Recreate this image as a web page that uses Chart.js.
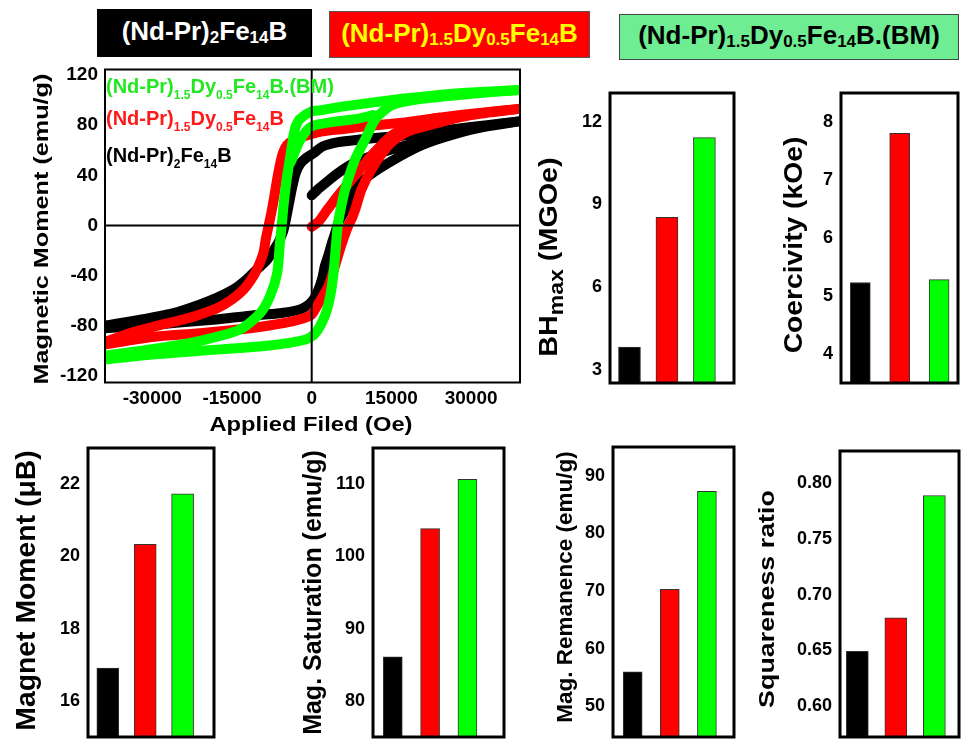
<!DOCTYPE html>
<html><head><meta charset="utf-8">
<script src="https://cdn.jsdelivr.net/npm/chart.js@4.4.1/dist/chart.umd.min.js"></script>
<style>
html,body{margin:0;padding:0;background:#fff;}
#wrap{position:relative;width:961px;height:739px;overflow:hidden;background:#fff;}
canvas.layer{position:absolute;left:0;top:0;width:961px;height:739px;}
.hdr{position:absolute;display:flex;align-items:center;justify-content:center;font-family:"Liberation Sans",Arial,sans-serif;font-weight:bold;font-size:26px;box-sizing:border-box;white-space:nowrap;line-height:1;padding-bottom:4px;}
.hdr sub{font-size:17px;position:relative;top:7px;vertical-align:baseline;line-height:0;}
</style></head>
<body><div id="wrap">
<div class="hdr" style="left:97px;top:9px;width:215px;height:48px;background:#000;color:#fff;">(Nd-Pr)<sub>2</sub>Fe<sub>14</sub>B</div>
<div class="hdr" style="left:329px;top:11px;width:261px;height:47px;background:#ff0000;color:#ffff00;border:1px solid #555;">(Nd-Pr)<sub>1.5</sub>Dy<sub>0.5</sub>Fe<sub>14</sub>B</div>
<div class="hdr" style="left:619px;top:14px;width:340px;height:46px;background:#6eed93;color:#000;border:1px solid #444;">(Nd-Pr)<sub>1.5</sub>Dy<sub>0.5</sub>Fe<sub>14</sub>B.(BM)</div>
</div>
<script>
// ---------------- data ----------------
const sampleColors = ['#000000', '#ff0000', '#00ff00'];
const fieldTicks = [-30000, -15000, 0, 15000, 30000];
const momentTicks = [-120, -80, -40, 0, 40, 80, 120];

// hysteresis branches [field (Oe), moment (emu/g)]
const blackDown = [[39000,83],[33000,80],[27000,77],[20000,73],[14000,70.5],[9000,68.5],[5000,66.5],[2000,63],[500,58],[-1000,54],[-2200,49],[-3000,42],[-3700,30],[-4300,17],[-4900,4],[-5400,-5],[-6200,-13],[-7200,-20],[-8500,-28],[-10300,-35],[-12500,-44],[-14700,-51],[-18000,-58],[-21000,-63],[-26000,-70],[-32000,-75],[-39000,-80]];
const blackUp = [[-39000,-82],[-32000,-80],[-25000,-77.5],[-18000,-75],[-11600,-72],[-6000,-70],[-2200,-67],[-500,-63],[500,-58],[1300,-51],[2000,-42],[2500,-32],[3200,-23],[3800,-14],[4500,-5],[5000,2],[6000,10],[7600,24],[10000,37],[14500,50],[20700,64],[27000,73],[33000,79],[39000,83]];
const blackVirgin = [[0,24],[1500,30],[3500,37],[5000,42],[8000,50],[11000,55],[14500,60],[18000,64],[22000,68],[26000,72]];
const redDown = [[39000,93],[32000,90],[24000,86],[17000,82],[11000,79.5],[6000,77],[2000,75],[0,73],[-2200,70],[-3800,67],[-4700,64],[-5400,58],[-5900,50],[-6500,37],[-7000,24],[-7600,10],[-8100,0],[-8600,-10],[-9100,-22],[-10300,-35],[-11500,-44],[-12800,-51],[-15000,-59],[-17800,-66],[-21000,-71],[-24100,-75],[-29000,-80],[-33500,-85],[-39000,-93]];
const redUp = [[-39000,-95],[-30000,-89],[-21000,-86],[-11600,-82],[-5300,-78],[-1500,-74],[0,-71],[1300,-62],[2300,-55],[3200,-48],[4400,-32],[5700,-14],[6900,0],[7600,6],[8200,13],[9400,29],[11300,45],[14500,64],[17600,74],[23900,82],[30000,88],[39000,93]];
const redVirgin = [[0,-1],[1300,3],[2500,10],[5000,24],[8200,40],[11300,56],[15100,72],[19500,82],[24000,86]];
const greenDown = [[39000,108],[30000,106],[23900,104],[17000,101],[11300,98],[6000,95],[1900,92],[0,91],[-2200,85],[-3000,79],[-3400,72],[-4000,56],[-4700,37],[-5300,16],[-5600,2],[-6000,-15],[-6500,-38],[-7800,-56],[-9700,-70],[-13500,-83],[-21000,-92],[-30400,-99],[-39000,-104]];
const greenUp = [[-39000,-107],[-30000,-103],[-21000,-100],[-8400,-96],[-1100,-91],[700,-86],[2500,-72],[3500,-56],[4100,-38],[4500,-19],[4900,0],[5300,10],[6300,29],[8200,53],[10100,69],[12000,85],[15100,96],[20700,101],[30000,105],[39000,108]];
const greenInner = [[-4000,50],[-2200,68],[0,79],[4700,83],[8500,85],[11500,88]];

// bar panels (black, red, green samples)
const bhMax = [3.83, 8.53, 11.42];
const bhTicks = [3, 6, 9, 12];
const coercivity = [5.23, 7.81, 5.28];
const hcTicks = [4, 5, 6, 7, 8];
const magnetMoment = [16.91, 20.33, 21.73];
const mmTicks = [16, 18, 20, 22];
const saturation = [86.1, 103.85, 110.65];
const msTicks = [80, 90, 100, 110];
const remanence = [56.0, 70.3, 87.3];
const mrTicks = [50, 60, 70, 80, 90];
const squareness = [0.649, 0.679, 0.789];
const sqTicks = [0.60, 0.65, 0.70, 0.75, 0.80];

// ---------------- helpers ----------------
const FONT = '"Liberation Sans", Arial, sans-serif';
const W = 961, H = 739;

function drawRich(ctx, t, a) {
  const size = t.size, sub = t.sub || Math.round(size * 0.6);
  let total = 0;
  const widths = t.parts.map(p => {
    ctx.font = 'bold ' + (p[1] ? sub : size) + 'px ' + FONT;
    const w = ctx.measureText(p[0]).width; total += w; return w;
  });
  ctx.save();
  ctx.fillStyle = t.color || '#000';
  let ax, ay;
  if (t.mode === 'left') { ax = a.left + t.dx; ay = (a.top + a.bottom) / 2 + t.dy; }
  else if (t.mode === 'bottom') { ax = (a.left + a.right) / 2 + t.dx; ay = a.bottom + t.dy; }
  else { ax = a.left + t.dx; ay = a.top + t.dy; }
  ctx.translate(ax, ay);
  if (t.mode === 'left') ctx.rotate(-Math.PI / 2);
  if (t.stretch) ctx.scale(t.stretch, 1);
  ctx.textBaseline = t.mode === 'top' ? 'alphabetic' : 'middle';
  let x = t.mode === 'top' ? 0 : -total / 2;
  t.parts.forEach((p, i) => {
    ctx.font = 'bold ' + (p[1] ? sub : size) + 'px ' + FONT;
    ctx.fillText(p[0], x, p[1] ? size * 0.3 : 0);
    x += widths[i];
  });
  ctx.restore();
}

const deco = {
  id: 'deco',
  afterDraw(chart, args, o) {
    const { ctx, chartArea: a, scales } = chart;
    ctx.save();
    if (o.zero) {
      ctx.strokeStyle = '#000'; ctx.lineWidth = 2;
      const x0 = scales.x.getPixelForValue(0), y0 = scales.y.getPixelForValue(0);
      ctx.beginPath();
      ctx.moveTo(a.left, y0); ctx.lineTo(a.right, y0);
      ctx.moveTo(x0, a.top); ctx.lineTo(x0, a.bottom);
      ctx.stroke();
    }
    ctx.lineWidth = o.frame; ctx.strokeStyle = '#000';
    ctx.strokeRect(a.left, a.top, a.right - a.left, a.bottom - a.top);
    (o.texts || []).forEach(t => drawRich(ctx, t, a));
    ctx.restore();
  }
};

function makeCanvas() {
  const c = document.createElement('canvas');
  c.width = W; c.height = H; c.className = 'layer';
  document.getElementById('wrap').appendChild(c);
  return c;
}

function branch(arr, color, order) {
  return {
    data: arr.map(p => ({ x: p[0], y: p[1] })),
    borderColor: color, backgroundColor: color,
    borderWidth: 10, pointRadius: 0, tension: 0.25,
    borderCapStyle: 'round', borderJoinStyle: 'round',
    fill: false, order: order
  };
}

// ---------------- hysteresis loop ----------------
const hArea = { left: 105, right: 520, top: 69.5, bottom: 382.5 };
new Chart(makeCanvas(), {
  type: 'line',
  data: {
    datasets: [
      branch(greenDown, sampleColors[2], 1), branch(greenUp, sampleColors[2], 1), branch(greenInner, sampleColors[2], 1),
      branch(redDown, sampleColors[1], 2), branch(redUp, sampleColors[1], 2), branch(redVirgin, sampleColors[1], 2),
      branch(blackDown, sampleColors[0], 3), branch(blackUp, sampleColors[0], 3), branch(blackVirgin, sampleColors[0], 3)
    ]
  },
  options: {
    responsive: false, animation: false, devicePixelRatio: 1,
    layout: { padding: { left: hArea.left - 60, right: W - hArea.right, top: hArea.top, bottom: H - hArea.bottom - 45 } },
    plugins: {
      legend: { display: false }, tooltip: { enabled: false },
      deco: {
        zero: true, frame: 2,
        texts: [
          { mode: 'left', dx: -63, dy: 3, size: 21, stretch: 1.2, parts: [['Magnetic Moment (emu/g)', 0]] },
          { mode: 'bottom', dx: -1.5, dy: 42.5, size: 21, stretch: 1.13, parts: [['Applied Filed (Oe)', 0]] },
          { mode: 'top', dx: 1, dy: 23.5, size: 20, sub: 12, color: '#22e822', parts: [['(Nd-Pr)', 0], ['1.5', 1], ['Dy', 0], ['0.5', 1], ['Fe', 0], ['14', 1], ['B.(BM)', 0]] },
          { mode: 'top', dx: 1, dy: 55, size: 20, sub: 12, color: '#ff1a1a', parts: [['(Nd-Pr)', 0], ['1.5', 1], ['Dy', 0], ['0.5', 1], ['Fe', 0], ['14', 1], ['B', 0]] },
          { mode: 'top', dx: 1, dy: 92, size: 20, sub: 12, color: '#000', parts: [['(Nd-Pr)', 0], ['2', 1], ['Fe', 0], ['14', 1], ['B', 0]] }
        ]
      }
    },
    scales: {
      x: {
        type: 'linear', min: -38900, max: 39200,
        grid: { display: false, drawTicks: false }, border: { display: false },
        afterBuildTicks: s => { s.ticks = fieldTicks.map(v => ({ value: v })); },
        afterFit: s => { s.height = 45; s.paddingLeft = 0; s.paddingRight = 0; },
        ticks: { color: '#000', font: { family: FONT, size: 19, weight: 'bold' }, padding: 5, maxRotation: 0, autoSkip: false, callback: v => String(v) }
      },
      y: {
        type: 'linear', min: -125.3, max: 124.4,
        grid: { display: false, drawTicks: false }, border: { display: false },
        afterBuildTicks: s => { s.ticks = momentTicks.map(v => ({ value: v })); },
        afterFit: s => { s.width = 60; s.paddingTop = 0; s.paddingBottom = 0; },
        ticks: { color: '#000', font: { family: FONT, size: 19, weight: 'bold' }, padding: 7, autoSkip: false, callback: v => String(v) }
      }
    }
  },
  plugins: [deco]
});

// ---------------- bar panels ----------------
function barPanel(values, ticks, yMin, yMax, area, xMin, xMax, thick, decimals, title) {
  new Chart(makeCanvas(), {
    type: 'bar',
    data: {
      datasets: [{
        data: values.map((v, i) => ({ x: i, y: v })),
        backgroundColor: sampleColors, borderColor: '#333', borderWidth: 1,
        barThickness: thick
      }]
    },
    options: {
      responsive: false, animation: false, devicePixelRatio: 1,
      layout: { padding: { left: area.left - 60, right: W - area.right, top: area.top, bottom: H - area.bottom } },
      plugins: { legend: { display: false }, tooltip: { enabled: false }, deco: { frame: 3, texts: [title] } },
      scales: {
        x: { type: 'linear', min: xMin, max: xMax, display: false, offset: false },
        y: {
          type: 'linear', min: yMin, max: yMax,
          grid: { display: false, drawTicks: false }, border: { display: false },
          afterBuildTicks: s => { s.ticks = ticks.map(v => ({ value: v })); },
          afterFit: s => { s.width = 60; s.paddingTop = 0; s.paddingBottom = 0; },
          ticks: { color: '#000', font: { family: FONT, size: 18, weight: 'bold' }, padding: 8, autoSkip: false,
                   callback: v => decimals ? Number(v).toFixed(decimals) : String(v) }
        }
      }
    },
    plugins: [deco]
  });
}

barPanel(bhMax, bhTicks, 2.53, 13.04, { left: 610, right: 734, top: 93, bottom: 383 }, -0.52, 2.79, 22, 0,
  { mode: 'left', dx: -60, dy: 19, size: 25, sub: 20, stretch: 1.15, parts: [['BH', 0], ['max', 1], [' (MGOe)', 0]] });
barPanel(coercivity, hcTicks, 3.49, 8.51, { left: 841, right: 958, top: 93, bottom: 383 }, -0.49, 2.48, 20, 0,
  { mode: 'left', dx: -46, dy: 7, size: 25, stretch: 1.13, parts: [['Coercivity (kOe)', 0]] });
barPanel(magnetMoment, mmTicks, 15, 23, { left: 88, right: 214, top: 448, bottom: 737 }, -0.53, 2.84, 22, 0,
  { mode: 'left', dx: -60, dy: -2, size: 27, stretch: 1.05, parts: [['Magnet Moment (\u03bcB)', 0]] });
barPanel(saturation, msTicks, 75, 115, { left: 373, right: 504, top: 448, bottom: 737 }, -0.53, 2.98, 19, 0,
  { mode: 'left', dx: -59, dy: 0, size: 25, parts: [['Mag. Saturation (emu/g)', 0]] });
barPanel(remanence, mrTicks, 44.7, 95, { left: 613, right: 734, top: 447, bottom: 737 }, -0.53, 2.73, 19, 0,
  { mode: 'left', dx: -47, dy: -5, size: 22.5, parts: [['Mag. Remanence (emu/g)', 0]] });
barPanel(squareness, sqTicks, 0.572, 0.829, { left: 840, right: 959, top: 451, bottom: 737 }, -0.45, 2.64, 22, 2,
  { mode: 'left', dx: -72, dy: 5, size: 22, stretch: 1.22, parts: [['Squareness ratio', 0]] });
</script>
</body></html>
